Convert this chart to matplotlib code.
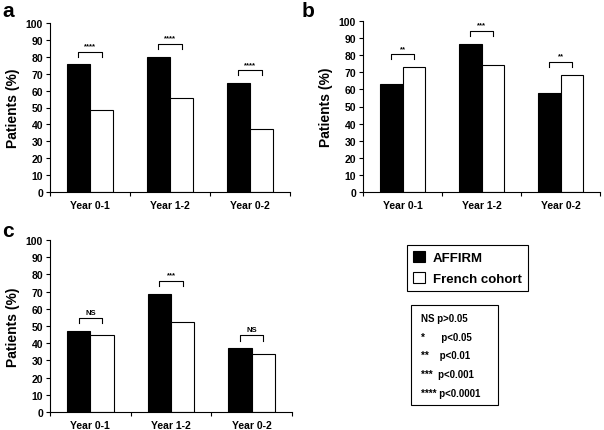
import matplotlib
matplotlib.use("Agg")
import matplotlib.pyplot as plt
from matplotlib.patches import Patch, Rectangle

plt.rcParams['font.family'] = ['Liberation Sans', 'DejaVu Sans']
plt.rcParams['font.weight'] = 'bold'

categories = ['Year 0-1', 'Year 1-2', 'Year 0-2']

affirm_a = [75.5, 80, 64.5]
french_a = [48.5, 55.5, 37.5]
sig_a = ['****', '****', '****']

affirm_b = [63, 86.5, 58]
french_b = [73, 74.5, 68.5]
sig_b = ['**', '***', '**']

affirm_c = [47, 68.5, 37]
french_c = [44.5, 52.5, 33.5]
sig_c = ['NS', '***', 'NS']

sig_legend = ['NS p>0.05', '*      p<0.05', '**    p<0.01', '***  p<0.001', '**** p<0.0001']

W, H = 604, 431
fig = plt.figure(figsize=(W / 100, H / 100), dpi=100)


def px_axes(left, right, top, bottom):
    return fig.add_axes([left / W, 1 - bottom / H, (right - left) / W, (bottom - top) / H])


def draw_panel(ax, affirm, french, sig):
    w = 0.29
    xs = [i + 0.5 for i in range(len(categories))]
    ax.bar([x - w / 2 for x in xs], affirm, width=w, color='black', edgecolor='black', linewidth=0.8)
    ax.bar([x + w / 2 for x in xs], french, width=w, color='white', edgecolor='black', linewidth=0.8)
    for x, a, f, s in zip(xs, affirm, french, sig):
        top = max(a, f) + 7.5
        ax.plot([x - w / 2, x - w / 2, x + w / 2, x + w / 2], [top - 3, top, top, top - 3],
                color='black', linewidth=0.8)
        ax.text(x, top + 1.5, s, ha='center', va='bottom', fontsize=5.5, fontweight='bold')
    ax.set_xlim(0, 3)
    ax.set_ylim(0, 100)
    ax.set_yticks(range(0, 101, 10))
    ax.set_xticks(xs)
    ax.set_xticklabels(categories)
    ax.set_xticks([0, 1, 2, 3], minor=True)
    ax.tick_params(axis='x', which='major', length=0, pad=6, labelsize=7.5)
    ax.tick_params(axis='x', which='minor', length=3, width=0.8, direction='out')
    ax.tick_params(axis='y', length=3, width=0.8, pad=2, labelsize=7.5)
    for lab in ax.get_xticklabels() + ax.get_yticklabels():
        lab.set_fontweight('bold')
    ax.spines['top'].set_visible(False)
    ax.spines['right'].set_visible(False)
    ax.spines['left'].set_linewidth(0.8)
    ax.spines['bottom'].set_linewidth(0.8)
    ax.set_ylabel('Patients (%)', fontsize=10, fontweight='bold', labelpad=4)


ax_a = px_axes(50, 290, 24, 193)
draw_panel(ax_a, affirm_a, french_a, sig_a)
ax_b = px_axes(363, 600, 22, 193)
draw_panel(ax_b, affirm_b, french_b, sig_b)
ax_c = px_axes(50, 292, 241, 413)
draw_panel(ax_c, affirm_c, french_c, sig_c)

fig.text(2 / W, 1 - 2 / H, 'a', fontsize=15, fontweight='bold', va='top')
fig.text(302 / W, 1 - 2 / H, 'b', fontsize=15, fontweight='bold', va='top')
fig.text(2 / W, 1 - 222 / H, 'c', fontsize=15, fontweight='bold', va='top')

handles = [Patch(facecolor='black', edgecolor='black', linewidth=0.8),
           Patch(facecolor='white', edgecolor='black', linewidth=0.8)]
leg = fig.legend(handles, ['AFFIRM', 'French cohort'], loc='upper left',
                 bbox_to_anchor=(407 / W, 1 - 246 / H), borderaxespad=0,
                 fancybox=False, edgecolor='black', framealpha=1,
                 handlelength=0.9, handleheight=0.9, handletextpad=0.6,
                 labelspacing=0.6, borderpad=0.45, prop={'size': 9.5, 'weight': 'bold'})
leg.get_frame().set_linewidth(0.8)

fig.patches.append(Rectangle((411 / W, 1 - 406 / H), 87 / W, 100 / H, transform=fig.transFigure,
                             facecolor='white', edgecolor='black', linewidth=0.8))
for i, line in enumerate(sig_legend):
    fig.text(421 / W, 1 - (319 + i * 18.7) / H, line, fontsize=7, fontweight='bold', va='center')

fig.savefig('out.png', dpi=100)
